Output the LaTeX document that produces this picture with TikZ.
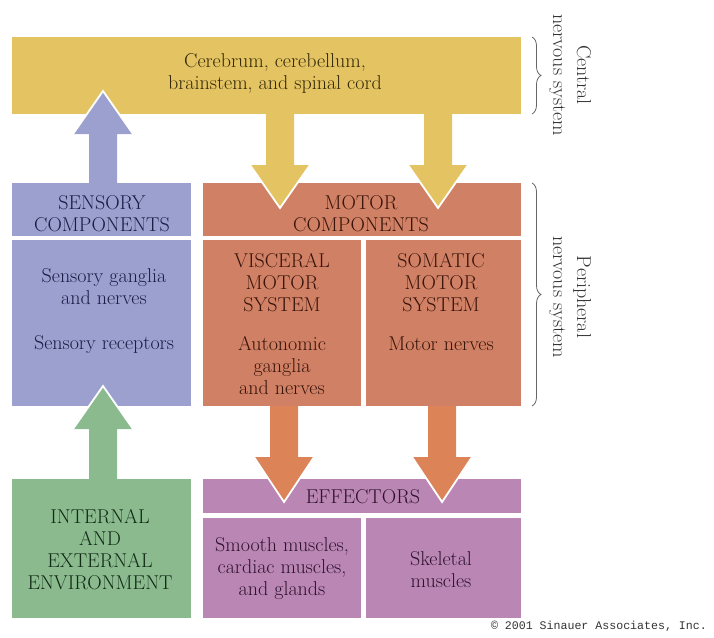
\documentclass[tikz,border=0pt]{standalone}
\usepackage{fontspec}
\newfontfamily\monof{Liberation Mono}
\usetikzlibrary{calc,decorations.pathreplacing}
\definecolor{cyel}{RGB}{228,196,98}
\definecolor{cblue}{RGB}{156,160,206}
\definecolor{csal}{RGB}{208,128,100}
\definecolor{corg}{RGB}{220,132,88}
\definecolor{cpur}{RGB}{186,134,180}
\definecolor{cgrn}{RGB}{138,186,142}
\definecolor{tyel}{RGB}{52,40,8}
\definecolor{tblue}{RGB}{28,28,68}
\definecolor{tsal}{RGB}{56,20,10}
\definecolor{tpur}{RGB}{46,18,46}
\definecolor{tgrn}{RGB}{18,42,22}
\newcommand{\blkarrow}[4]{%
  \fill[#1] let \p1=(#2), \p2=(#3) in
    (\x1-14pt,\y1) -- (\x1-14pt,\y2#4) -- (\x1-30pt,\y2#4) -- (\x2,\y2) --
    (\x1+30pt,\y2#4) -- (\x1+14pt,\y2#4) -- (\x1+14pt,\y1) -- cycle;
  \draw[white,line width=1.8pt,line join=miter] let \p1=(#2), \p2=(#3) in
    (\x1-30pt,\y2#4) -- (\x2,\y2) -- (\x1+30pt,\y2#4);
}
\begin{document}
\begin{tikzpicture}[x=1pt,y=-1pt,
  box/.style={rectangle,draw=none,inner sep=0pt,outer sep=0pt},
  lbl/.style={align=center,inner sep=0pt,font=\fontsize{20}{22}\selectfont},
  side/.style={align=center,inner sep=0pt,rotate=-90,text=black!80,
    font=\fontsize{20}{24}\selectfont},
  brc/.style={draw=black!60,line width=0.8pt,
    decorate,decoration={brace,amplitude=9pt}}]
\useasboundingbox (0,0) rectangle (714,637);
% boxes
\node[box,fill=cyel,minimum width=509,minimum height=77] (cns) at (266.5,75.5) {};
\node[box,fill=cblue,minimum width=179,minimum height=53] (sensh) at (101.5,209.5) {};
\node[box,fill=cblue,minimum width=179,minimum height=166] (sensb) at (101.5,323) {};
\node[box,fill=csal,minimum width=318,minimum height=53] (moth) at (362,209.5) {};
\node[box,fill=csal,minimum width=158,minimum height=166] (visc) at (282,323) {};
\node[box,fill=csal,minimum width=155,minimum height=166] (soma) at (443.5,323) {};
\node[box,fill=cgrn,minimum width=179,minimum height=139] (env) at (101.5,548.5) {};
\node[box,fill=cpur,minimum width=318,minimum height=34] (effh) at (362,496) {};
\node[box,fill=cpur,minimum width=158,minimum height=100] (smooth) at (282,568) {};
\node[box,fill=cpur,minimum width=155,minimum height=100] (skel) at (443.5,568) {};
% arrows
\coordinate (bS) at (103,183); \coordinate (bT) at (103,91);
\coordinate (gS) at (103,479); \coordinate (gT) at (103,386);
\coordinate (y1S) at (280,114); \coordinate (y1T) at (280,208);
\coordinate (y2S) at (438,114); \coordinate (y2T) at (438,208);
\coordinate (o1S) at (284,406); \coordinate (o1T) at (284,502);
\coordinate (o2S) at (442,406); \coordinate (o2T) at (442,502);
\blkarrow{cblue}{bS}{bT}{-43pt}
\blkarrow{cgrn}{gS}{gT}{-43pt}
\blkarrow{cyel}{y1S}{y1T}{+43pt}
\blkarrow{cyel}{y2S}{y2T}{+43pt}
\blkarrow{corg}{o1S}{o1T}{+45pt}
\blkarrow{corg}{o2S}{o2T}{+45pt}
% texts
\node[lbl,text=tyel] (tcns) at (275,73) {Cerebrum, cerebellum,\\brainstem, and spinal cord};
\node[lbl,text=tblue] (tsensh) at (102,213.5) {SENSORY\\COMPONENTS};
\node[lbl,text=tblue] (tsens1) at (104,287) {Sensory ganglia\\and nerves};
\node[lbl,text=tblue] (tsens2) at (104,345) {Sensory receptors};
\node[lbl,text=tsal] (tmoth) at (361,213.5) {MOTOR\\COMPONENTS};
\node[lbl,text=tsal] (tvisc1) at (282,283) {VISCERAL\\MOTOR\\SYSTEM};
\node[lbl,text=tsal] (tvisc2) at (282,366) {Autonomic\\ganglia\\and nerves};
\node[lbl,text=tsal] (tsoma1) at (441,283) {SOMATIC\\MOTOR\\SYSTEM};
\node[lbl,text=tsal] (tsoma2) at (441,344) {Motor nerves};
\node[lbl,text=tgrn] (tenv) at (100,550) {INTERNAL\\AND\\EXTERNAL\\ENVIRONMENT};
\node[lbl,text=tpur] (teff) at (363,497) {EFFECTORS};
\node[lbl,text=tpur] (tsmooth) at (282,569) {Smooth muscles,\\cardiac muscles,\\and glands};
\node[lbl,text=tpur] (tskel) at (441,570) {Skeletal\\muscles};
% braces
\coordinate (c1) at (532,37); \coordinate (c2) at (532,114);
\coordinate (p1) at (532,183); \coordinate (p2) at (532,406);
\draw[brc] (c1) -- (c2);
\draw[brc] (p1) -- (p2);
\node[side] (tcentral) at (570,75) {Central\\nervous system};
\node[side] (tperiph) at (570,297) {Peripheral\\nervous system};
% copyright
\node[anchor=east,inner sep=0pt,text=black!80,font=\monof\fontsize{11.6}{12}\selectfont] (copy) at (707,626) {\textcopyright{} 2001 Sinauer Associates, Inc.};
\end{tikzpicture}
\end{document}
